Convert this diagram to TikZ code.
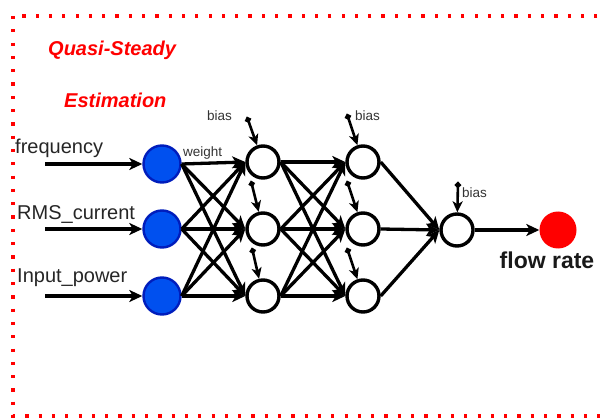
\documentclass[tikz,border=0pt]{standalone}
\usepackage{fontspec}
\setmainfont{Liberation Sans}
\usetikzlibrary{arrows.meta}
\definecolor{inblue}{HTML}{0050EF}
\definecolor{inblueedge}{HTML}{001DBC}
\definecolor{biasgray}{HTML}{333333}
\begin{document}
\begin{tikzpicture}[x=1pt,y=-1pt,
  inp/.style={circle,fill=inblue,draw=inblueedge,line width=2.4pt,minimum size=37pt,inner sep=0pt},
  hid/.style={circle,fill=white,draw=black,line width=3.4pt,minimum size=32pt,inner sep=0pt},
  outp/.style={circle,fill=red,draw=none,minimum size=37pt,inner sep=0pt},
  conn/.style={line width=3.3pt,-{Stealth[length=13pt,width=12pt,inset=3.5pt]}},
  biasarr/.style={line width=2.6pt,{Circle[length=6pt]}-{Stealth[length=11pt,width=10pt,inset=3pt]}},
  lbl/.style={font=\fontsize{20}{24}\selectfont,inner sep=0pt,anchor=west,text=black!85},
  small/.style={font=\fontsize{13.5}{16}\selectfont,inner sep=0pt,anchor=west,text=biasgray},
  title/.style={font=\fontsize{20}{24}\selectfont\bfseries\itshape,inner sep=0pt,anchor=west,text=red}
]
\useasboundingbox (0,0) rectangle (601,419);
\begin{scope}
\clip (0,0) rectangle (601,419);
\draw[red,line width=3.2pt,dash pattern=on 3.2pt off 10.1pt] (13,16) rectangle (650,416);
\end{scope}

\node[title] (t1) at (48,50) {Quasi-Steady};
\node[title] (t2) at (64,100) {Estimation};

\node[lbl] (l1) at (15,148) {frequency};
\node[lbl] (l2) at (17,215) {RMS\_current};
\node[lbl] (l3) at (17,278) {Input\_power};

\coordinate (s1) at (45,164);
\coordinate (s2) at (45,229);
\coordinate (s3) at (45,296);

\node[inp] (i1) at (162,164) {};
\node[inp] (i2) at (162,229) {};
\node[inp] (i3) at (162,296) {};

\node[hid] (a1) at (263,162) {};
\node[hid] (a2) at (263,229) {};
\node[hid] (a3) at (263,296) {};

\node[hid] (b1) at (363,162) {};
\node[hid] (b2) at (363,229) {};
\node[hid] (b3) at (363,296) {};

\node[hid] (c1) at (457,230) {};
\node[outp] (o) at (558,230) {};

\node[font=\fontsize{23}{27}\selectfont\bfseries,inner sep=0pt,text=black!90] (ol) at (547,260) {flow rate};

\draw[conn] (s1) -- (i1);
\draw[conn] (s2) -- (i2);
\draw[conn] (s3) -- (i3);

\foreach \s in {i1,i2,i3}{
  \foreach \t in {a1,a2,a3}{
    \draw[conn] (\s.east) -- (\t.west);
  }
}
\foreach \s in {a1,a2,a3}{
  \foreach \t in {b1,b2,b3}{
    \draw[conn] (\s.east) -- (\t.west);
  }
}
\foreach \s in {b1,b2,b3}{
  \draw[conn] (\s.east) -- (c1.west);
}
\draw[conn] (c1.east) -- (o.west);

\node[small] (w) at (183,153) {weight};

\coordinate (ba1) at (247,117);
\coordinate (ba2) at (251,181);
\coordinate (ba3) at (252,248);
\coordinate (bb1) at (347,114);
\coordinate (bb2) at (347,181);
\coordinate (bb3) at (347,248);
\coordinate (bc1) at (458,182);

\draw[biasarr] (ba1) -- (a1);
\draw[biasarr] (ba2) -- (a2);
\draw[biasarr] (ba3) -- (a3);
\draw[biasarr] (bb1) -- (b1);
\draw[biasarr] (bb2) -- (b2);
\draw[biasarr] (bb3) -- (b3);
\draw[biasarr] (bc1) -- (c1);

\node[small] (bl1) at (207,116) {bias};
\node[small] (bl2) at (355,116) {bias};
\node[small] (bl3) at (462,193) {bias};
\end{tikzpicture}
\end{document}
